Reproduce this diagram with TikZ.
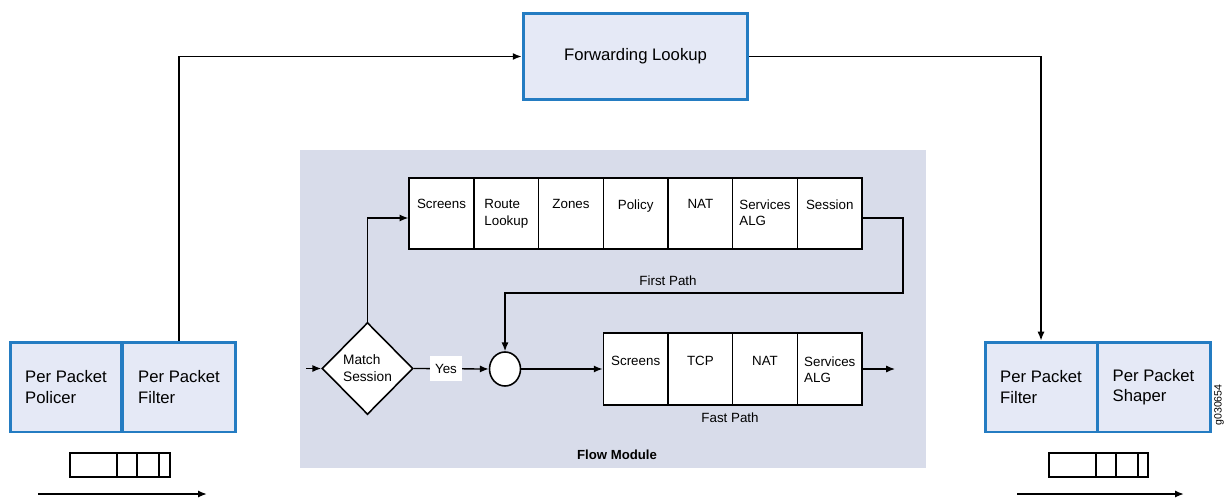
\documentclass[tikz,border=0pt]{standalone}
\usepackage{fontspec}
\setmainfont{Liberation Sans}
\usetikzlibrary{shapes.geometric,arrows.meta}

\definecolor{rand}{RGB}{36,124,194}
\definecolor{vul}{RGB}{229,233,246}
\definecolor{flow}{RGB}{216,220,234}

\tikzset{
  blok/.style={draw=rand,line width=1.7pt,fill=vul,minimum height=1.8cm,align=left,inner sep=0pt,font=\fontsize{9.5}{11.5}\selectfont},
  cel/.style={draw,line width=0.9pt,fill=white,minimum width=1.294cm,inner sep=0pt},
  celtxt/.style={anchor=north,inner sep=0pt,align=left,font=\fontsize{7.6}{9.6}\selectfont},
  pijl/.style={line width=0.75pt,-{Latex[length=5pt,width=4pt]}},
  rij/.style={line width=1pt},
}

\begin{document}
\begin{tikzpicture}[x=0.02cm,y=-0.02cm]
    \useasboundingbox (0,0) rectangle (1226,497);
    % flow module
    \fill[flow] (300,150) rectangle (926,468);
    \node[font=\bfseries\fontsize{7.5}{9}\selectfont] (fm) at (617,455) {Flow Module};
    % forwarding
    \node[blok,minimum width=4.5cm,minimum height=1.74cm,align=center] (fwd) at (635.5,56.5) {Forwarding Lookup};
    % ingang
    \node[blok,minimum width=2.24cm] (ppl) at (66,387) {Per Packet\\Policer};
    \node[blok,minimum width=2.28cm] (ppf) at (179,387) {Per Packet\\Filter};
    % uitgang
    \node[blok,minimum width=2.24cm] (rpf) at (1041,387) {Per Packet\\Filter};
    \node[blok,minimum width=2.26cm] (rps) at (1153.5,387) {Per Packet\\Shaper};
    % first path
    \node[cel,minimum height=1.42cm] (fp1) at (441.5,213.5) {};
    \node[cel,minimum height=1.42cm] (fp2) at (506.3,213.5) {};
    \node[cel,minimum height=1.42cm] (fp3) at (571,213.5) {};
    \node[cel,minimum height=1.42cm] (fp4) at (635.7,213.5) {};
    \node[cel,minimum height=1.42cm] (fp5) at (700.4,213.5) {};
    \node[cel,minimum height=1.42cm] (fp6) at (765,213.5) {};
    \node[cel,minimum height=1.42cm] (fp7) at (829.8,213.5) {};
    \node[celtxt] (fp1t) at (441.5,199) {Screens};
    \node[celtxt] (fp2t) at (506.3,199) {Route\\Lookup};
    \node[celtxt] (fp3t) at (571,199) {Zones};
    \node[celtxt] (fp4t) at (635.7,199) {Policy};
    \node[celtxt] (fp5t) at (700.4,199) {NAT};
    \node[celtxt] (fp6t) at (765,199) {Services\\ALG};
    \node[celtxt] (fp7t) at (829.8,199) {Session};
    \node[font=\fontsize{7.6}{9}\selectfont] (fpl) at (668,281) {First Path};
    % fast path
    \node[cel,minimum height=1.44cm] (sp1) at (635.7,369) {};
    \node[cel,minimum height=1.44cm] (sp2) at (700.4,369) {};
    \node[cel,minimum height=1.44cm] (sp3) at (765,369) {};
    \node[cel,minimum height=1.44cm] (sp4) at (829.8,369) {};
    \node[celtxt] (sp1t) at (635.7,356) {Screens};
    \node[celtxt] (sp2t) at (700.4,356) {TCP};
    \node[celtxt] (sp3t) at (765,356) {NAT};
    \node[celtxt] (sp4t) at (829.8,356) {Services\\ALG};
    \node[font=\fontsize{7.6}{9}\selectfont] (spl) at (730,418) {Fast Path};
    % match session
    \node[draw,diamond,fill=white,line width=0.9pt,minimum width=1.82cm,minimum height=1.84cm,inner sep=0pt,align=left,font=\fontsize{7.8}{9.6}\selectfont] (ms) at (367.5,368.5) {Match\\Session};
    \node[draw,ellipse,fill=white,line width=0.9pt,minimum width=0.62cm,minimum height=0.68cm,inner sep=0pt] (cir) at (505,369) {};
    % verbindingen
    \coordinate (in) at (306,368.5);
    \coordinate (fpr) at (903,293);
    \coordinate (uit) at (895,369);
    \draw[pijl] (in) -- (ms.west);
    \draw[pijl] (ms.north) |- ([yshift=-0.09cm]fp1.west);
    \draw[pijl] ([yshift=-0.09cm]fp7.east) -| (fpr) -| (cir.north);
    \draw[pijl] (ms.east) -- node[fill=white,inner sep=0pt,minimum width=0.64cm,minimum height=0.5cm,pos=0.43,font=\fontsize{7.6}{9}\selectfont] (yes) {Yes} (cir.west);
    \draw[pijl] (cir.east) -- (sp1.west);
    \draw[pijl] (sp4.east) -- (uit);
    % boven
    \draw[pijl] (ppf.north) |- (fwd.west);
    \draw[pijl] (fwd.east) -| (rpf.north);
    % wachtrijen
    \draw[rij] (70,453) rectangle (170,477);
    \draw[rij] (117,453) -- (117,477) (137,453) -- (137,477) (159,453) -- (159,477);
    \draw[rij] (1049,453) rectangle (1148,477);
    \draw[rij] (1096,453) -- (1096,477) (1116,453) -- (1116,477) (1138,453) -- (1138,477);
    % pijlen onder
    \coordinate (li1) at (38,494);
    \coordinate (li2) at (207,494);
    \coordinate (re1) at (1017,494);
    \coordinate (re2) at (1184,494);
    \draw[pijl,line width=1.2pt] (li1) -- (li2);
    \draw[pijl,line width=1.2pt] (re1) -- (re2);
    % nummer
    \node[rotate=90,font=\fontsize{6}{7}\selectfont] (gnr) at (1219,405) {g030654};
\end{tikzpicture}
\end{document}
